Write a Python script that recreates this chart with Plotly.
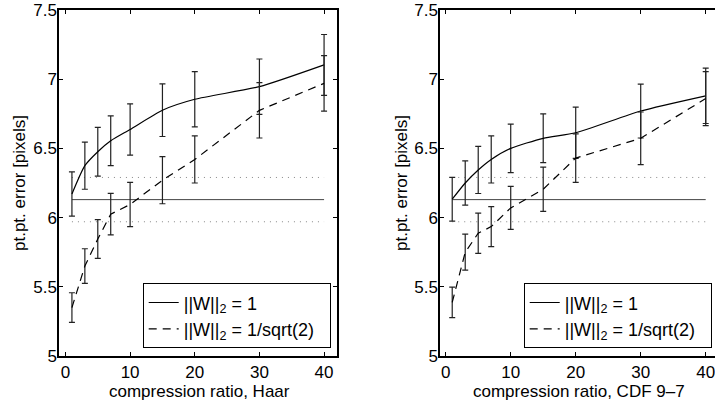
import plotly.graph_objects as go

ratios = [1, 3, 5, 7, 10, 15, 20, 30, 40]

haar_w1 = [6.17, 6.375, 6.476, 6.555, 6.637, 6.776, 6.855, 6.946, 7.103]
haar_w1_err = [0.16, 0.17, 0.176, 0.18, 0.185, 0.19, 0.2, 0.2, 0.22]
haar_ws = [5.35, 5.65, 5.845, 6.025, 6.095, 6.27, 6.42, 6.775, 6.97]
haar_ws_err = [0.107, 0.125, 0.14, 0.15, 0.16, 0.17, 0.17, 0.2, 0.2]

cdf_w1 = [6.133, 6.25, 6.344, 6.42, 6.5, 6.573, 6.613, 6.77, 6.88]
cdf_w1_err = [0.158, 0.16, 0.17, 0.17, 0.175, 0.176, 0.185, 0.195, 0.2]
cdf_ws = [5.387, 5.75, 5.887, 5.935, 6.07, 6.205, 6.43, 6.573, 6.86]
cdf_ws_err = [0.11, 0.13, 0.145, 0.145, 0.155, 0.16, 0.175, 0.19, 0.195]

baseline_x = [1, 40]
baseline_mean = 6.13
baseline_std = 0.16

yticks = [5, 5.5, 6, 6.5, 7, 7.5]
xticks = [0, 10, 20, 30, 40]

legend_w1 = "||W||<sub>2</sub> = 1"
legend_ws = "||W||<sub>2</sub> = 1/sqrt(2)"
ytitle = "pt.pt. error [pixels]"
xtitles = ["compression ratio, Haar", "compression ratio, CDF 9–7"]

FONT = "Liberation Sans, Arial, Helvetica, sans-serif"
W, H = 715, 408
PAD = "&nbsp;&nbsp;"


def px(p):
    return p / W


def py(p):
    return 1 - p / H


fig = go.Figure()

panels = [
    ("x", "y", "legend", haar_w1, haar_w1_err, haar_ws, haar_ws_err),
    ("x2", "y2", "legend2", cdf_w1, cdf_w1_err, cdf_ws, cdf_ws_err),
]

for xa, ya, leg, w1, w1e, ws, wse in panels:
    fig.add_trace(go.Scatter(x=baseline_x, y=[baseline_mean] * 2, mode="lines",
                             line=dict(color="#444", width=1), xaxis=xa, yaxis=ya,
                             showlegend=False, hoverinfo="skip"))
    for s in (1, -1):
        fig.add_trace(go.Scatter(x=baseline_x, y=[baseline_mean + s * baseline_std] * 2,
                                 mode="lines", line=dict(color="#888", width=1, dash="1px,5px"),
                                 xaxis=xa, yaxis=ya, showlegend=False, hoverinfo="skip"))
    fig.add_trace(go.Scatter(x=ratios, y=w1, mode="lines", name=legend_w1 + PAD,
                             line=dict(color="black", width=1.2, shape="spline", smoothing=0.6),
                             error_y=dict(type="data", array=w1e, visible=True, color="#222",
                                          thickness=1.2, width=3),
                             xaxis=xa, yaxis=ya, legend=leg))
    fig.add_trace(go.Scatter(x=ratios, y=ws, mode="lines", name=legend_ws + PAD,
                             line=dict(color="black", width=1.2, dash="8px,6px"),
                             error_y=dict(type="data", array=wse, visible=True, color="#222",
                                          thickness=1.2, width=3),
                             xaxis=xa, yaxis=ya, legend=leg))

top = py(10)
bot = py(356)

axis_common = dict(showline=True, linecolor="black", linewidth=1.5, ticks="inside",
                   ticklen=4, tickcolor="black", showgrid=False, zeroline=False,
                   ticklabeloverflow="allow",
                   tickfont=dict(family=FONT, size=17, color="black"), automargin=False)

fig.update_layout(
    width=W, height=H,
    margin=dict(l=0, r=0, t=0, b=0),
    paper_bgcolor="white", plot_bgcolor="white",
    font=dict(family=FONT, size=17, color="black"),
    xaxis=dict(domain=[px(59), px(337)], range=[-1, 42], tickvals=xticks, mirror="ticks",
               anchor="y", **axis_common),
    yaxis=dict(domain=[bot, top], range=[5, 7.5], tickvals=yticks,
               ticktext=[str(v) for v in yticks], mirror="ticks", anchor="x",
               ticklabelstandoff=-3, **axis_common),
    xaxis2=dict(domain=[px(440), 1.0], range=[-0.88, 41.43], tickvals=xticks, mirror="ticks",
                anchor="y2", **axis_common),
    yaxis2=dict(domain=[bot, top], range=[5, 7.5], tickvals=yticks,
                ticktext=[str(v) for v in yticks], mirror=False, anchor="x2",
                ticklabelstandoff=-3, **axis_common),
    legend=dict(x=px(330.7), xanchor="right", y=py(348.3), yanchor="bottom",
                bgcolor="white", bordercolor="black", borderwidth=1, itemwidth=30,
                font=dict(family=FONT, size=18, color="black"), tracegroupgap=0),
    legend2=dict(x=px(711.7), xanchor="right", y=py(348.3), yanchor="bottom",
                 bgcolor="white", bordercolor="black", borderwidth=1, itemwidth=30,
                 font=dict(family=FONT, size=18, color="black"), tracegroupgap=0),
)

for cx, text in zip([px(199), px(579)], xtitles):
    fig.add_annotation(x=cx, y=py(391.5), xref="paper", yref="paper", text=text,
                       showarrow=False, xanchor="center", yanchor="middle",
                       font=dict(family=FONT, size=17, color="black"))
for cx in [px(20), px(402)]:
    fig.add_annotation(x=cx, y=(top + bot) / 2, xref="paper", yref="paper", text=ytitle,
                       textangle=-90, showarrow=False, xanchor="center", yanchor="middle",
                       font=dict(family=FONT, size=17, color="black"))

fig.write_html("out.html", config={"displayModeBar": False},
               post_script="document.body.style.margin='0';document.body.style.overflow='hidden';")
